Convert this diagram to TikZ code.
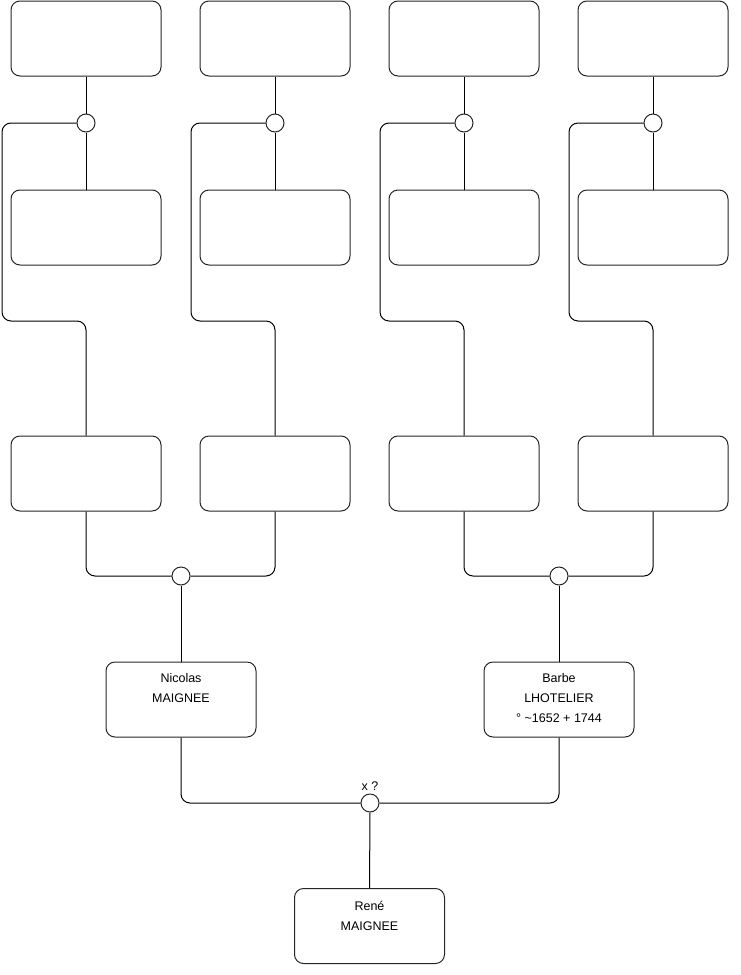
\documentclass[tikz,border=0pt]{standalone}
\usepackage{fontspec}
\setmainfont{Liberation Sans}
\begin{document}
\begin{tikzpicture}[x=1pt,y=-1pt,
  box/.style={draw=black!85, line width=1pt, rounded corners=9pt, minimum width=150pt, minimum height=75pt, inner sep=0pt},
  ring/.style={circle, draw=black!85, line width=1pt, fill=white, minimum size=18pt, inner sep=0pt},
  conn/.style={draw=black, line width=1pt, rounded corners=9pt},
  txt/.style={font=\fontsize{12.5}{20}\selectfont, align=center, inner sep=0pt}]
\useasboundingbox (0,0) rectangle (740,975);
% rows
\foreach \i/\x in {1/86,2/275,3/464,4/653}{
  \node[box] (a\i) at (\x,38.5) {};
  \node[box] (b\i) at (\x,227.5) {};
  \node[box] (c\i) at (\x,473.5) {};
}
\node[box] (nic) at (181,699.5) {};
\node[box] (bar) at (559,699.5) {};
\node[box] (ren) at (369.5,926) {};
\node[txt] (tnic) at (181,688) {Nicolas\\MAIGNEE};
\node[txt] (tbar) at (559,698) {Barbe\\LHOTELIER\\° \textasciitilde1652 + 1744};
\node[txt] (tren) at (369.5,916) {René\\MAIGNEE};
% rings
\foreach \i/\x/\l in {1/86/2,2/275/191,3/464/380,4/653/569}{
  \node[ring] (r\i) at (\x,123) {};
  \draw[conn] (a\i.south) -- (r\i.north);
  \draw[conn] (r\i.south) -- (b\i.north);
  \draw[conn] (r\i.west) -- (\l,123) -- (\l,321) -- (\x,321) -- (c\i.north);
}
\node[ring] (r5) at (181,576) {};
\node[ring] (r6) at (559,576) {};
\node[ring] (r7) at (370,803) {};
\node[txt, anchor=south] (lx) at ([yshift=3pt]r7.north) {x ?};
\draw[conn] (c1.south) -- (86,576) -- (r5.west);
\draw[conn] (c2.south) -- (275,576) -- (r5.east);
\draw[conn] (c3.south) -- (464,576) -- (r6.west);
\draw[conn] (c4.south) -- (653,576) -- (r6.east);
\draw[conn] (r5.south) -- (nic.north);
\draw[conn] (r6.south) -- (bar.north);
\draw[conn] (nic.south) -- (181,803) -- (r7.west);
\draw[conn] (bar.south) -- (559,803) -- (r7.east);
\draw[conn] (r7.south) -- (ren.north);
\end{tikzpicture}
\end{document}
